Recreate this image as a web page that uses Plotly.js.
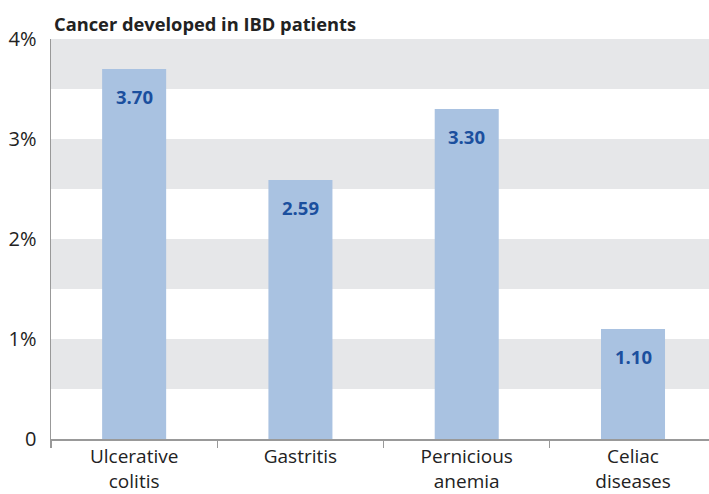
<!DOCTYPE html>
<html><head><meta charset="utf-8">
<script src="https://cdn.plot.ly/plotly-3.0.1.min.js"></script>
<style>html,body{margin:0;padding:0;background:#fff}#chart{width:709px;height:494px}</style>
</head><body><div id="chart"></div>
<script>
const categories = ["Ulcerative<br>colitis", "Gastritis", "Pernicious<br>anemia", "Celiac<br>diseases"];
const values = [3.70, 2.59, 3.30, 1.10];
const yTickVals = [0, 1, 2, 3, 4];
const yTickText = ["0", "1%", "2%", "3%", "4%"];
const bandStarts = [0.5, 1.5, 2.5, 3.5];

const FONT = "Open Sans, Noto Sans, sans-serif";
const shapes = bandStarts.map(b => ({
  type: "rect", xref: "paper", yref: "y", x0: 0, x1: 1, y0: b, y1: b + 0.5,
  fillcolor: "#e6e7e9", line: {width: 0}, layer: "below"
}));
const annotations = categories.map((c, i) => ({
  x: c, y: values[i], xref: "x", yref: "y", yanchor: "top", yshift: -13,
  text: "<b>" + values[i].toFixed(2) + "</b>", showarrow: false,
  font: {family: FONT, size: 18.5, color: "#1b4f9e"}
}));

Plotly.newPlot("chart", [{
  type: "bar", x: categories, y: values,
  marker: {color: "#a9c2e1"}, hoverinfo: "none"
}], {
  width: 709, height: 494,
  margin: {l: 51, r: 0, t: 39, b: 55, pad: 0},
  paper_bgcolor: "#fff", plot_bgcolor: "rgba(0,0,0,0)",
  bargap: 0.615,
  showlegend: false,
  title: {text: "<b>Cancer developed in IBD patients</b>", x: 54/709, xanchor: "left", xref: "container",
          y: 1 - 25/494, yanchor: "middle", yref: "container", font: {family: FONT, size: 18.3, color: "#222"}},
  xaxis: {range: [-0.5, 3.457], tickson: "boundaries", ticks: "outside", ticklen: 7,
          tickcolor: "#999", tickwidth: 1.2, showline: true, linecolor: "#999", linewidth: 1.5,
          showgrid: false, zeroline: false, fixedrange: true,
          tickfont: {family: FONT, size: 19, color: "#222"}},
  yaxis: {range: [0, 4], tickvals: yTickVals, ticktext: yTickText, showgrid: false,
          zeroline: false, showline: true, linecolor: "#999", linewidth: 1.5, ticks: "",
          ticklabelstandoff: 9,
          tickfont: {family: FONT, size: 20, color: "#222"}, fixedrange: true},
  shapes: shapes, annotations: annotations
}, {staticPlot: true});
</script></body></html>
